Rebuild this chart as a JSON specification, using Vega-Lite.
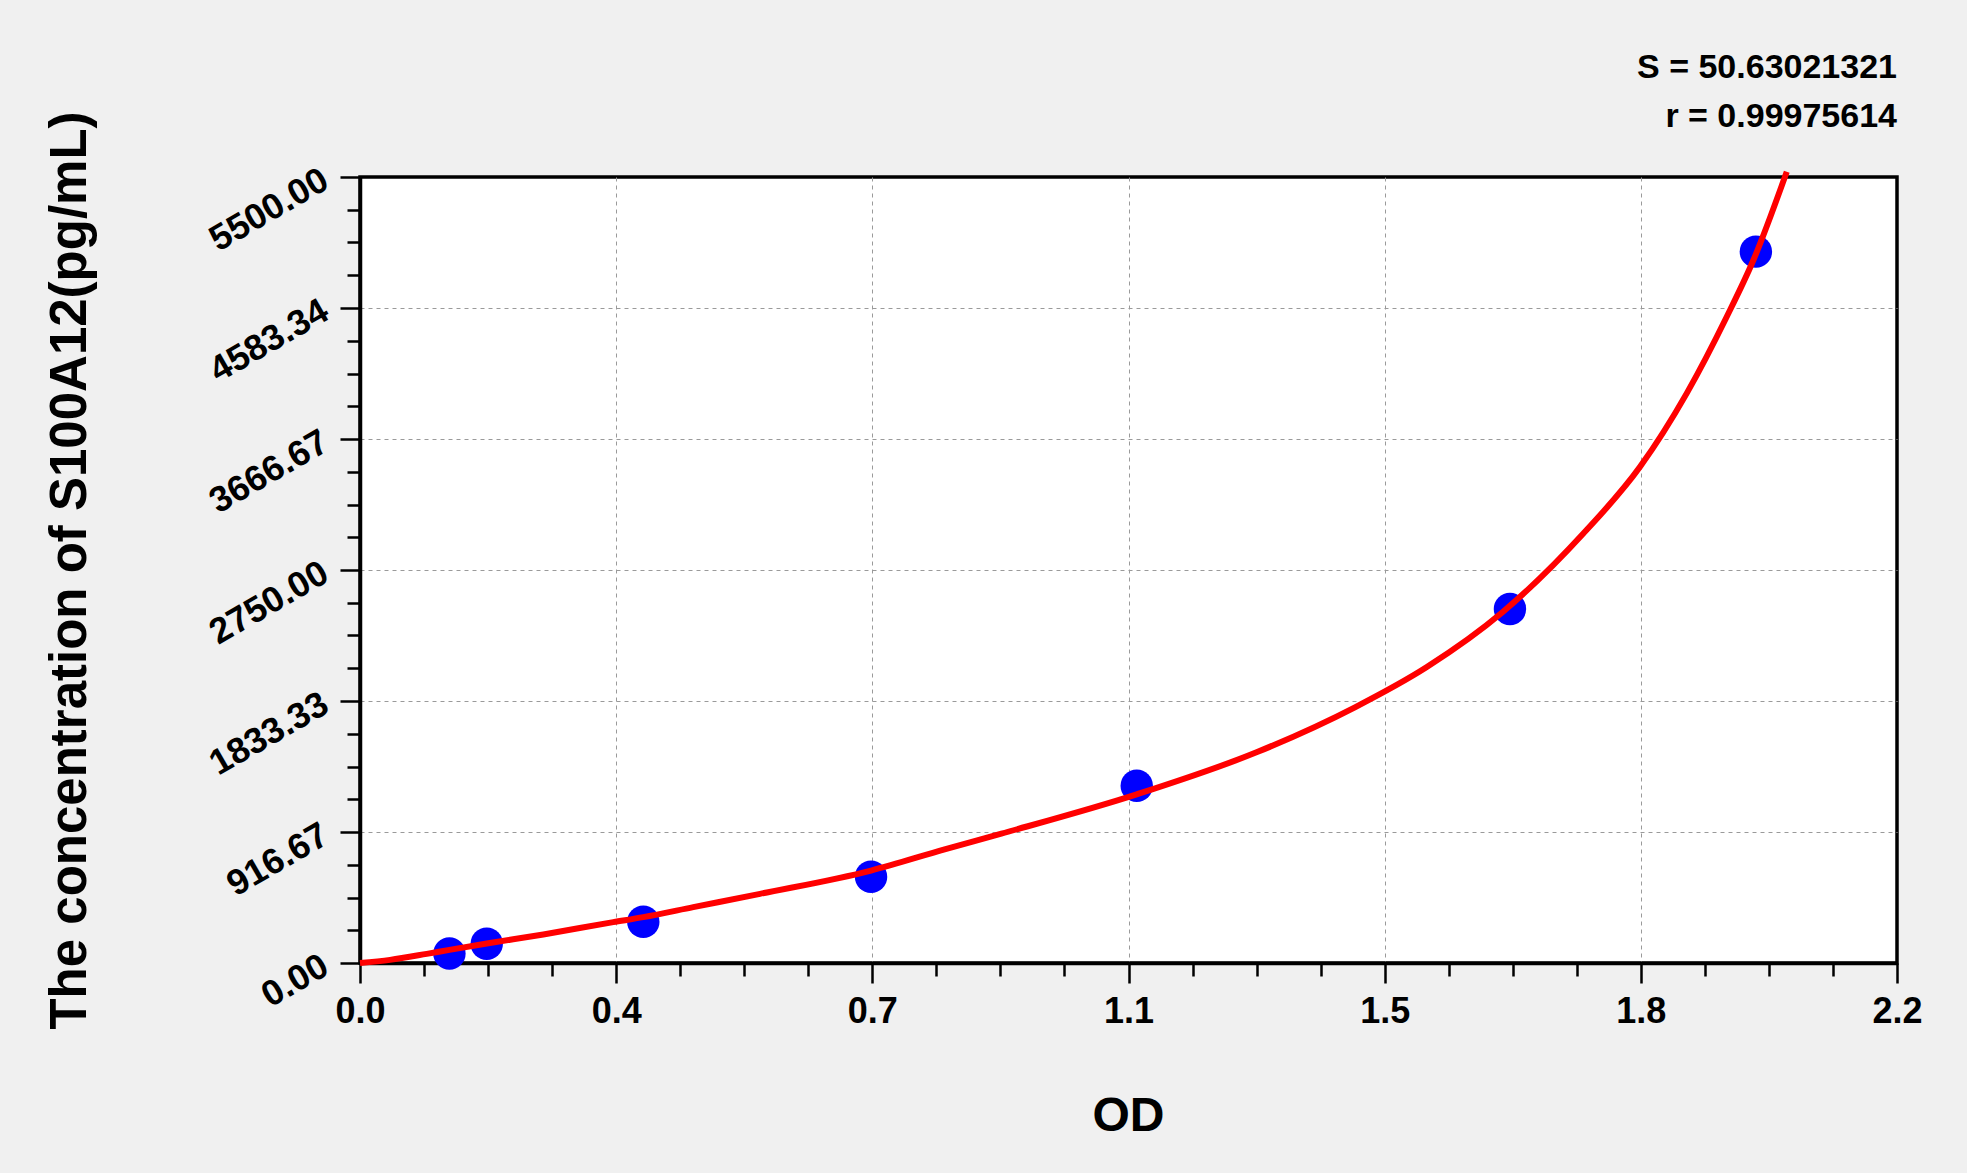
{
  "$schema": "https://vega.github.io/schema/vega-lite/v6.json",
  "autosize": {"type": "none"},
  "width": 1537,
  "height": 786,
  "padding": {"left": 360, "top": 177, "right": 70, "bottom": 210},
  "background": "#f0f0f0",
  "config": {
    "font": "Liberation Sans",
    "view": {"fill": "white", "stroke": "black", "strokeWidth": 3.5},
    "axis": {
      "labelFont": "Liberation Sans",
      "labelFontWeight": "bold",
      "labelFontSize": 36,
      "labelColor": "black",
      "titleFont": "Liberation Sans",
      "titleFontWeight": "bold",
      "titleColor": "black",
      "domainColor": "black",
      "domainWidth": 3.5,
      "tickColor": "black",
      "tickWidth": 2.5,
      "gridColor": "#9a9a9a",
      "gridDash": [4, 4],
      "gridWidth": 1
    }
  },
  "title": {
    "text": ["S = 50.63021321", "r = 0.99975614"],
    "anchor": "end",
    "frame": "group",
    "font": "Liberation Sans",
    "fontSize": 34,
    "fontWeight": "bold",
    "color": "black",
    "lineHeight": 49,
    "offset": -23
  },
  "datasets": {
    "points": [
      {"od": 0.128, "conc": 67},
      {"od": 0.1814, "conc": 135},
      {"od": 0.4055, "conc": 289},
      {"od": 0.7315, "conc": 604},
      {"od": 1.1118, "conc": 1240},
      {"od": 1.646, "conc": 2477},
      {"od": 1.998, "conc": 4978}
    ],
    "curve": [
      {"od": 0, "conc": 0},
      {"od": 0.043, "conc": 22},
      {"od": 0.0955, "conc": 64},
      {"od": 0.128, "conc": 92},
      {"od": 0.1814, "conc": 136},
      {"od": 0.2624, "conc": 200},
      {"od": 0.3626, "conc": 286},
      {"od": 0.4055, "conc": 321},
      {"od": 0.4771, "conc": 391},
      {"od": 0.5726, "conc": 484},
      {"od": 0.7315, "conc": 647},
      {"od": 0.8368, "conc": 795},
      {"od": 0.918, "conc": 905},
      {"od": 1.1117, "conc": 1180},
      {"od": 1.2841, "conc": 1476},
      {"od": 1.4248, "conc": 1791},
      {"od": 1.527, "conc": 2071},
      {"od": 1.6357, "conc": 2456},
      {"od": 1.751, "conc": 3005},
      {"od": 1.8322, "conc": 3472},
      {"od": 1.899, "conc": 3986},
      {"od": 1.9563, "conc": 4522},
      {"od": 1.9945, "conc": 4919},
      {"od": 2.0422, "conc": 5537}
    ]
  },
  "layer": [
    {
      "data": {"name": "points"},
      "mark": {"type": "circle", "color": "#0000ff", "opacity": 1, "size": 1050},
      "encoding": {
        "x": {
          "field": "od",
          "type": "quantitative",
          "scale": {"domain": [0, 2.2], "nice": false, "zero": true},
          "axis": {
            "orient": "bottom",
            "values": [0, 0.36667, 0.73333, 1.1, 1.46667, 1.83333, 2.2],
            "format": ".1f",
            "tickSize": 20,
            "labelPadding": 11,
            "labelFlush": false,
            "labelOverlap": false,
            "grid": true,
            "gridOpacity": {"condition": {"test": "datum.value <= 0.001 || datum.value >= 2.199", "value": 0}, "value": 1},
            "title": "OD",
            "titleFontSize": 48,
            "titleX": 768,
            "titleY": 167,
            "titleAlign": "center",
            "titleBaseline": "alphabetic"
          }
        },
        "y": {
          "field": "conc",
          "type": "quantitative",
          "scale": {"domain": [0, 5500], "nice": false, "zero": true},
          "axis": {
            "orient": "left",
            "values": [0, 916.667, 1833.333, 2750, 3666.667, 4583.336, 5500],
            "format": ".2f",
            "tickSize": 20,
            "labelPadding": 15,
            "labelAngle": -30,
            "labelAlign": "right",
            "labelBaseline": "middle",
            "labelFlush": false,
            "labelOverlap": false,
            "grid": true,
            "gridOpacity": {"condition": {"test": "datum.value <= 0.1 || datum.value >= 5499", "value": 0}, "value": 1},
            "title": "The concentration of S100A12(pg/mL)",
            "titleFontSize": 51,
            "titleAngle": -90,
            "titleX": -290,
            "titleY": 393,
            "titleAlign": "center",
            "titleBaseline": "middle"
          }
        }
      }
    },
    {
      "data": {"name": "curve"},
      "mark": {"type": "line", "color": "#ff0000", "strokeWidth": 6, "interpolate": "monotone"},
      "encoding": {
        "x": {
          "field": "od",
          "type": "quantitative",
          "axis": {
            "orient": "bottom",
            "values": [0.09167, 0.18333, 0.275, 0.45833, 0.55, 0.64167, 0.825, 0.91667, 1.00833, 1.19167, 1.28333, 1.375, 1.55833, 1.65, 1.74167, 1.925, 2.01667, 2.10833],
            "labels": false,
            "grid": false,
            "domain": false,
            "tickSize": 13,
            "title": null
          }
        },
        "y": {
          "field": "conc",
          "type": "quantitative",
          "axis": {
            "orient": "left",
            "values": [229.167, 458.333, 687.5, 1145.833, 1375, 1604.167, 2062.5, 2291.667, 2520.833, 2979.167, 3208.333, 3437.5, 3895.833, 4125, 4354.167, 4812.5, 5041.667, 5270.833],
            "labels": false,
            "grid": false,
            "domain": false,
            "tickSize": 13,
            "title": null
          }
        }
      }
    }
  ],
  "resolve": {"axis": {"x": "independent", "y": "independent"}}
}
